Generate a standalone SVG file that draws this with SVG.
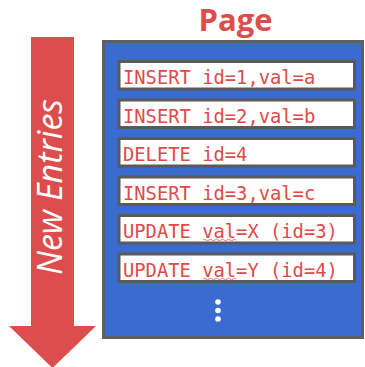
<svg xmlns="http://www.w3.org/2000/svg" width="365" height="367" viewBox="0 0 365 367">
<style>
.entry rect{fill:#ffffff;stroke:#5a5a5a;stroke-width:3}
.entry text{font-family:"DejaVu Sans Mono","Liberation Mono",monospace;font-size:18.8px;fill:#e04a4a}
.squig{fill:none;stroke:#e07a7a;stroke-width:1}
.dot{fill:#ffffff}
</style>
<rect width="365" height="367" fill="#ffffff"/>
<g id="arrow">
<polygon points="31,37 74,37 74,326 96,326 52.5,368 9,326 31,326" fill="#dd4d4b"/>
<text transform="translate(62,187) rotate(-90)" text-anchor="middle" font-family="Open Sans, sans-serif" font-style="italic" font-size="34" fill="#ffffff">New Entries</text>
</g>
<text id="title" x="235.5" y="31" text-anchor="middle" font-family="Open Sans, sans-serif" font-weight="bold" font-size="31" fill="#dd4d4b">Page</text>
<g id="page">
<rect x="103.5" y="41.5" width="259" height="296" fill="#3a6bd0" stroke="#5f5f5f" stroke-width="3"/>
<circle class="dot" cx="218" cy="302" r="2.8"/>
<circle class="dot" cx="218" cy="310.5" r="2.8"/>
<circle class="dot" cx="218" cy="319" r="2.8"/>
</g>
<g id="e1" class="entry"><rect x="119" y="61.5" width="235.5" height="27.5"/><text x="123" y="84">INSERT id=1,val=a</text></g>
<g id="e2" class="entry"><rect x="119" y="100" width="235.5" height="27.5"/><text x="123" y="122.5">INSERT id=2,val=b</text></g>
<g id="e3" class="entry"><rect x="119" y="138.5" width="235.5" height="27.5"/><text x="123" y="161">DELETE id=4</text></g>
<g id="e4" class="entry"><rect x="119" y="177" width="235.5" height="27.5"/><text x="123" y="199.5">INSERT id=3,val=c</text></g>
<g id="e5" class="entry"><rect x="119" y="215.5" width="235.5" height="27.5"/><text x="123" y="238">UPDATE val=X (id=3)</text>
<path class="squig" d="M203,240 q1.5,-1.5 3,0 t3,0 t3,0 t3,0 t3,0 t3,0 t3,0 t3,0 t3,0 t3,0 t3,0"/></g>
<g id="e6" class="entry"><rect x="119" y="254" width="235.5" height="27.5"/><text x="123" y="276.5">UPDATE val=Y (id=4)</text>
<path class="squig" d="M203,279 q1.5,-1.5 3,0 t3,0 t3,0 t3,0 t3,0 t3,0 t3,0 t3,0 t3,0 t3,0 t3,0"/></g>
</svg>
